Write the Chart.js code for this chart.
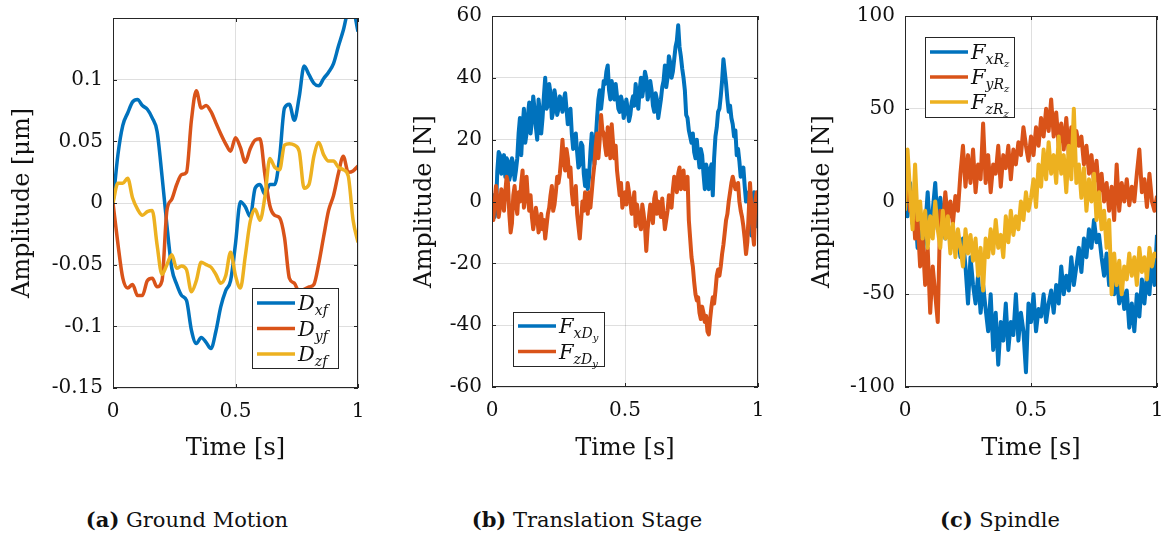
<!DOCTYPE html>
<html>
<head>
<meta charset="utf-8">
<script src="https://cdn.jsdelivr.net/npm/chart.js@4.4.1/dist/chart.umd.min.js"></script>
<style>
  body { margin: 0; width: 1161px; height: 542px; background: #fff; position: relative; overflow: hidden; }
  .plot { position: absolute; top: 0; height: 470px; }
  .cap { position: absolute; top: 507px; font-family: "DejaVu Serif", "Liberation Serif", serif; font-size: 21px; color: #111; transform: translateX(-50%); white-space: nowrap; }
</style>
</head>
<body>
<div class="plot" style="left:0;width:370px"><canvas id="groundChart"></canvas></div>
<div class="plot" style="left:400px;width:380px"><canvas id="stageChart"></canvas></div>
<div class="plot" style="left:790px;width:371px"><canvas id="spindleChart"></canvas></div>
<div class="cap" style="left:187px"><b>(a)</b> Ground Motion</div>
<div class="cap" style="left:587px"><b>(b)</b> Translation Stage</div>
<div class="cap" style="left:1000px"><b>(c)</b> Spindle</div>
<script>
// time vectors [s]
const t1 = [0, 0.02, 0.04, 0.06, 0.08, 0.1, 0.12, 0.14, 0.16, 0.18,
  0.2, 0.22, 0.24, 0.26, 0.28, 0.3, 0.32, 0.34, 0.36, 0.38,
  0.4, 0.42, 0.44, 0.46, 0.48, 0.5, 0.52, 0.54, 0.56, 0.58,
  0.6, 0.62, 0.64, 0.66, 0.68, 0.7, 0.72, 0.74, 0.76, 0.78,
  0.8, 0.82, 0.84, 0.86, 0.88, 0.9, 0.92, 0.94, 0.96, 0.98, 1];
const t2 = [0, 0.01, 0.02, 0.03, 0.04, 0.05, 0.06, 0.07, 0.08, 0.09,
  0.1, 0.11, 0.12, 0.13, 0.14, 0.15, 0.16, 0.17, 0.18, 0.19,
  0.2, 0.21, 0.22, 0.23, 0.24, 0.25, 0.26, 0.27, 0.28, 0.29,
  0.3, 0.31, 0.32, 0.33, 0.34, 0.35, 0.36, 0.37, 0.38, 0.39,
  0.4, 0.41, 0.42, 0.43, 0.44, 0.45, 0.46, 0.47, 0.48, 0.49,
  0.5, 0.51, 0.52, 0.53, 0.54, 0.55, 0.56, 0.57, 0.58, 0.59,
  0.6, 0.61, 0.62, 0.63, 0.64, 0.65, 0.66, 0.67, 0.68, 0.69,
  0.7, 0.71, 0.72, 0.73, 0.74, 0.75, 0.76, 0.77, 0.78, 0.79,
  0.8, 0.81, 0.82, 0.83, 0.84, 0.85, 0.86, 0.87, 0.88, 0.89,
  0.9, 0.91, 0.92, 0.93, 0.94, 0.95, 0.96, 0.97, 0.98, 0.99, 1];
const t3 = [0, 0.005, 0.01, 0.015, 0.02, 0.025, 0.03, 0.035, 0.04, 0.045,
  0.05, 0.055, 0.06, 0.065, 0.07, 0.075, 0.08, 0.085, 0.09, 0.095,
  0.1, 0.105, 0.11, 0.115, 0.12, 0.125, 0.13, 0.135, 0.14, 0.145,
  0.15, 0.155, 0.16, 0.165, 0.17, 0.175, 0.18, 0.185, 0.19, 0.195,
  0.2, 0.205, 0.21, 0.215, 0.22, 0.225, 0.23, 0.235, 0.24, 0.245,
  0.25, 0.255, 0.26, 0.265, 0.27, 0.275, 0.28, 0.285, 0.29, 0.295,
  0.3, 0.305, 0.31, 0.315, 0.32, 0.325, 0.33, 0.335, 0.34, 0.345,
  0.35, 0.355, 0.36, 0.365, 0.37, 0.375, 0.38, 0.385, 0.39, 0.395,
  0.4, 0.405, 0.41, 0.415, 0.42, 0.425, 0.43, 0.435, 0.44, 0.445,
  0.45, 0.455, 0.46, 0.465, 0.47, 0.475, 0.48, 0.485, 0.49, 0.495,
  0.5, 0.505, 0.51, 0.515, 0.52, 0.525, 0.53, 0.535, 0.54, 0.545,
  0.55, 0.555, 0.56, 0.565, 0.57, 0.575, 0.58, 0.585, 0.59, 0.595,
  0.6, 0.605, 0.61, 0.615, 0.62, 0.625, 0.63, 0.635, 0.64, 0.645,
  0.65, 0.655, 0.66, 0.665, 0.67, 0.675, 0.68, 0.685, 0.69, 0.695,
  0.7, 0.705, 0.71, 0.715, 0.72, 0.725, 0.73, 0.735, 0.74, 0.745,
  0.75, 0.755, 0.76, 0.765, 0.77, 0.775, 0.78, 0.785, 0.79, 0.795,
  0.8, 0.805, 0.81, 0.815, 0.82, 0.825, 0.83, 0.835, 0.84, 0.845,
  0.85, 0.855, 0.86, 0.865, 0.87, 0.875, 0.88, 0.885, 0.89, 0.895,
  0.9, 0.905, 0.91, 0.915, 0.92, 0.925, 0.93, 0.935, 0.94, 0.945,
  0.95, 0.955, 0.96, 0.965, 0.97, 0.975, 0.98, 0.985, 0.99, 0.995, 1];

// (a) ground motion [um]
const dxf = [0, 0.039, 0.063, 0.073, 0.082, 0.084, 0.079, 0.076, 0.069, 0.058,
  0.022, -0.018, -0.053, -0.066, -0.075, -0.079, -0.103, -0.114, -0.109, -0.113,
  -0.118, -0.104, -0.084, -0.071, -0.063, -0.033, 0.001, -0.003, -0.011, 0.012,
  0.015, 0.007, 0.015, 0.015, 0.037, 0.077, 0.080, 0.067, 0.086, 0.111,
  0.104, 0.097, 0.095, 0.101, 0.106, 0.113, 0.127, 0.140, 0.155, 0.156, 0.139];
const dyf = [0, -0.033, -0.061, -0.069, -0.066, -0.075, -0.075, -0.063, -0.061, -0.068,
  -0.063, -0.006, 0.003, 0.015, 0.023, 0.025, 0.067, 0.091, 0.077, 0.079,
  0.074, 0.065, 0.056, 0.048, 0.042, 0.053, 0.045, 0.033, 0.044, 0.051,
  0.052, 0.023, -0.002, -0.010, -0.012, -0.028, -0.061, -0.065, -0.072, -0.070,
  -0.068, -0.066, -0.049, -0.027, -0.006, 0.006, 0.024, 0.038, 0.025, 0.026, 0.030];
const dzf = [0, 0.016, 0.016, 0.020, 0.004, -0.005, -0.010, -0.007, -0.006, -0.034,
  -0.058, -0.050, -0.042, -0.053, -0.051, -0.054, -0.072, -0.063, -0.048, -0.050,
  -0.052, -0.058, -0.065, -0.059, -0.040, -0.059, -0.069, -0.043, -0.015, -0.005,
  -0.014, 0.005, 0.036, 0.029, 0.027, 0.047, 0.048, 0.047, 0.042, 0.012,
  0.015, 0.038, 0.049, 0.039, 0.034, 0.034, 0.029, 0.027, 0.022, -0.014, -0.032];

// (b) translation stage [N], sampled on t3
const fxDy = [-3, 2, -5, -2, 10, 16, 15, 9, 12, 15, 8, 14, 13, 7, 9, 14, 12, 7, 10, 14,
  22, 27, 15, 24, 30, 19, 22, 28, 32, 22, 26, 34, 30, 24, 20, 33, 29, 22, 27, 34,
  40, 30, 31, 38, 35, 27, 29, 36, 33, 28, 30, 34, 32, 29, 33, 35, 30, 25, 27, 30,
  22, 17, 19, 22, 16, 11, 12, 19, 18, 9, 5, 10, 4, 8, 16, 22, 17, 12, 20, 27,
  33, 36, 30, 34, 39, 38, 42, 44, 36, 33, 39, 36, 33, 38, 34, 30, 29, 34, 32, 27,
  29, 33, 30, 26, 28, 32, 34, 31, 38, 34, 30, 36, 40, 34, 37, 42, 40, 33, 35, 39,
  36, 31, 29, 35, 33, 27, 30, 33, 37, 39, 44, 37, 40, 47, 45, 40, 42, 46, 50, 52,
  57, 50, 47, 43, 40, 36, 28, 27, 23, 21, 19, 22, 16, 14, 20, 15, 11, 17, 15, 9,
  4, 12, 10, 4, 10, 12, 2, 14, 21, 24, 29, 30, 34, 39, 46, 42, 38, 33, 29, 31,
  27, 25, 21, 23, 15, 17, 13, 8, 10, 11, 5, 0, 1, 3, -8, -11, -2, 3, -5, -8, 2];
const fzDy = [-3, -6, 0, 5, 1, -5, -2, 4, 2, -3, 3, 8, 6, -4, -10, -7, 2, 5, -1, -4,
  3, 0, 6, 10, -2, 3, 8, 1, -3, 2, -5, -9, -6, -2, -5, -10, -8, -4, -9, -6,
  -12, -8, -4, -2, 2, 5, -3, -1, 3, 8, 6, 9, 14, 20, 13, 10, 17, 14, 8, 11,
  3, -1, 1, 5, -4, -8, -12, -6, 0, -3, 3, 1, -4, 3, -2, 3, 8, 12, 18, 22,
  14, 20, 28, 23, 22, 18, 15, 24, 19, 14, 25, 19, 14, 18, 10, 6, 2, 6, -2, 0,
  3, -1, 6, 3, 0, -4, -1, 3, -8, -1, -4, -7, -9, -1, -4, -8, -16, -9, -5, -1,
  -4, -7, 1, 3, -4, 0, -2, -5, 1, -4, -9, -6, -3, 2, 1, -2, 4, 8, 7, 3,
  9, 11, 4, 5, 10, 4, 7, 8, -6, -12, -18, -21, -26, -30, -32, -31, -36, -38, -34, -36,
  -39, -37, -42, -43, -38, -34, -31, -33, -29, -24, -22, -24, -21, -17, -14, -10, -6, -4, 0, 3,
  6, 8, 6, 4, 4, 6, 0, -3, -5, -8, -12, -17, -13, -4, 6, -2, -10, -14, 0, 3, -2];

// (c) spindle [N], sampled on t2
const fxRz = [0, -8, 10, -12, -5, -25, -8, -30, -15, 5,
  -18, -5, 10, -15, 2, -10, -20, -12, -22, -15,
  -25, -18, -30, -20, -35, -55, -30, -45, -55, -40,
  -60, -45, -58, -70, -50, -80, -60, -88, -65, -75,
  -55, -80, -65, -72, -50, -75, -60, -70, -92, -55,
  -65, -50, -70, -58, -62, -50, -65, -55, -48, -60,
  -45, -55, -35, -50, -40, -48, -30, -45, -35, -25,
  -38, -20, -30, -15, -25, -10, -22, -18, -30, -40,
  -28, -45, -35, -50, -40, -55, -45, -58, -48, -68,
  -55, -70, -50, -62, -42, -55, -40, -50, -30, -45, -18];
const fyRz = [0, 15, -5, 5, -20, -10, -35, -20, -45, -25,
  -60, -35, -50, -65, -5, -15, 5, -10, 0, -12,
  3, -5, 15, 30, 8, 25, 10, 28, 5, 20,
  12, 42, 10, 25, 5, 20, 15, 30, 8, 25,
  18, 30, 12, 28, 20, 32, 25, 40, 30, 22,
  35, 25, 40, 30, 45, 35, 50, 38, 55, 35,
  48, 30, 42, 28, 45, 25, 40, 22, 38, 30,
  35, 20, 30, 15, 25, 10, 22, 5, 15, 0,
  10, -5, 8, -10, 20, -5, 10, 0, 12, -2,
  8, 0, 15, 28, 5, 12, -3, 15, 0, -5, 3];
const fzRz = [-5, 28, 5, -15, 20, -10, 0, -20, -5, -25,
  -8, -20, 0, -15, -25, -5, -20, -8, -28, -12,
  -30, -15, -25, -35, -15, -28, -18, -32, -20, -40,
  -25, -48, -20, -30, -15, -28, -10, -25, -18, -30,
  -8, -22, -5, -18, -8, -15, 0, -10, 5, -5,
  2, 12, -3, 20, 8, 28, 12, 32, 15, 25,
  10, 35, 15, 25, 5, 30, 12, 50, 10, 20,
  2, 18, -5, 12, 0, 15, -10, 5, -15, -5,
  -25, -10, -50, -28, -45, -32, -50, -35, -42, -28,
  -40, -30, -45, -25, -38, -30, -42, -25, -35, -28, -30];

// tick values
const xTicks = [0, 0.5, 1];
const yTicksA = [-0.15, -0.1, -0.05, 0, 0.05, 0.1];
const yTicksB = [-60, -40, -20, 0, 20, 40, 60];
const yTicksC = [-100, -50, 0, 50, 100];

const BLUE = '#0072BD', ORANGE = '#D95319', YELLOW = '#EDB120';
const AXIS = '#262626';
const SERIF = '"DejaVu Serif", "Liberation Serif", serif';

Chart.defaults.font.family = SERIF;
Chart.defaults.color = '#111';

function pts(t, v) {
    return t.map((x, i) => ({ x: x, y: v[i] }));
}

// box around the axes and small inward ticks on all four sides
const axesFrame = {
    id: 'axesFrame',
    afterDraw(chart) {
        const { ctx, chartArea: a, scales } = chart;
        ctx.save();
        ctx.strokeStyle = AXIS;
        ctx.lineWidth = 1;
        ctx.beginPath();
        scales.x.ticks.forEach(tk => {
            const px = Math.round(scales.x.getPixelForValue(tk.value)) + 0.5;
            ctx.moveTo(px, a.bottom); ctx.lineTo(px, a.bottom - 4);
            ctx.moveTo(px, a.top); ctx.lineTo(px, a.top + 4);
        });
        scales.y.ticks.forEach(tk => {
            const py = Math.round(scales.y.getPixelForValue(tk.value)) + 0.5;
            ctx.moveTo(a.left, py); ctx.lineTo(a.left + 4, py);
            ctx.moveTo(a.right, py); ctx.lineTo(a.right - 4, py);
        });
        ctx.stroke();
        ctx.strokeRect(a.left + 0.5, a.top + 0.5, a.right - a.left - 1, a.bottom - a.top - 1);
        ctx.restore();
    }
};

// MATLAB style legend box drawn inside the axes
const insideLegend = {
    id: 'insideLegend',
    afterDatasetsDraw(chart, args, opts) {
        const ctx = chart.ctx;
        ctx.save();
        ctx.fillStyle = '#fff';
        ctx.fillRect(opts.x, opts.y, opts.w, opts.h);
        ctx.strokeStyle = AXIS;
        ctx.lineWidth = 1;
        ctx.strokeRect(opts.x + 0.5, opts.y + 0.5, opts.w, opts.h);
        const sizes = [21, 14, 10];
        const drops = [0, 5, 8];
        chart.data.datasets.forEach((ds, i) => {
            const cy = opts.y + opts.first + i * opts.row;
            ctx.strokeStyle = ds.borderColor;
            ctx.lineWidth = 3.5;
            ctx.beginPath();
            ctx.moveTo(opts.x + 5, cy);
            ctx.lineTo(opts.x + 43, cy);
            ctx.stroke();
            let tx = opts.x + 46;
            ctx.fillStyle = '#111';
            ctx.textBaseline = 'alphabetic';
            ds.legendParts.forEach(([txt, lvl]) => {
                ctx.font = 'italic ' + sizes[lvl] + 'px ' + SERIF;
                ctx.fillText(txt, tx, cy + 7 + drops[lvl]);
                tx += ctx.measureText(txt).width;
            });
        });
        ctx.restore();
    }
};

function makeOptions(c) {
    return {
        responsive: true,
        maintainAspectRatio: false,
        animation: false,
        layout: { padding: { top: c.top, right: c.right, left: 0, bottom: 0 } },
        elements: { point: { radius: 0 } },
        plugins: {
            legend: { display: false },
            tooltip: { enabled: false },
            insideLegend: c.legend
        },
        scales: {
            x: {
                type: 'linear',
                min: 0,
                max: 1,
                afterBuildTicks: s => { s.ticks = xTicks.map(v => ({ value: v })); },
                afterFit: s => { s.height = c.xh; s.paddingLeft = 0; s.paddingRight = 0; },
                ticks: { font: { size: 20 }, padding: 12, maxRotation: 0, callback: v => String(v) },
                grid: { color: 'rgba(38,38,38,0.15)', drawTicks: false },
                border: { display: false },
                title: { display: true, text: 'Time [s]', font: { size: 24 }, padding: { bottom: 7 } }
            },
            y: {
                min: c.ymin,
                max: c.ymax,
                afterBuildTicks: s => { s.ticks = c.yTicks.map(v => ({ value: v })); },
                afterFit: s => { s.width = c.yw; s.paddingTop = 0; s.paddingBottom = 0; },
                ticks: { font: { size: 20 }, padding: 10, callback: v => String(v) },
                grid: { color: 'rgba(38,38,38,0.15)', drawTicks: false },
                border: { display: false },
                title: { display: true, text: c.ytitle, font: { size: 24 }, padding: { top: c.ytpad } }
            }
        }
    };
}

function line(t, v, color, order, parts, smooth) {
    return {
        data: pts(t, v),
        borderColor: color,
        borderWidth: smooth ? 3.5 : 4,
        borderJoinStyle: 'round',
        fill: false,
        clip: 0,
        order: order,
        tension: smooth ? 0.4 : 0,
        cubicInterpolationMode: smooth ? 'monotone' : 'default',
        legendParts: parts
    };
}

// (a) Ground Motion
new Chart(document.getElementById('groundChart'), {
    type: 'line',
    data: {
        datasets: [
            line(t1, dxf, BLUE, 2, [['D', 0], ['xf', 1]], true),
            line(t1, dyf, ORANGE, 1, [['D', 0], ['yf', 1]], true),
            line(t1, dzf, YELLOW, 0, [['D', 0], ['zf', 1]], true)
        ]
    },
    options: makeOptions({
        top: 18, right: 12, xh: 82, yw: 113, ytpad: 8,
        ymin: -0.15, ymax: 0.15, yTicks: yTicksA, ytitle: 'Amplitude [μm]',
        legend: { x: 252, y: 288, w: 86, h: 80, first: 15, row: 25.5 }
    }),
    plugins: [insideLegend, axesFrame]
});

// (b) Translation Stage
new Chart(document.getElementById('stageChart'), {
    type: 'line',
    data: {
        datasets: [
            line(t3, fxDy, BLUE, 1, [['F', 0], ['xD', 1], ['y', 2]], false),
            line(t3, fzDy, ORANGE, 0, [['F', 0], ['zD', 1], ['y', 2]], false)
        ]
    },
    options: makeOptions({
        top: 16, right: 22, xh: 83, yw: 92, ytpad: 10,
        ymin: -60, ymax: 60, yTicks: yTicksB, ytitle: 'Amplitude [N]',
        legend: { x: 113, y: 312, w: 91, h: 54, first: 14, row: 25.5 }
    }),
    plugins: [insideLegend, axesFrame]
});

// (c) Spindle
new Chart(document.getElementById('spindleChart'), {
    type: 'line',
    data: {
        datasets: [
            line(t2, fxRz, BLUE, 2, [['F', 0], ['xR', 1], ['z', 2]], false),
            line(t2, fyRz, ORANGE, 1, [['F', 0], ['yR', 1], ['z', 2]], false),
            line(t2, fzRz, YELLOW, 0, [['F', 0], ['zR', 1], ['z', 2]], false)
        ]
    },
    options: makeOptions({
        top: 16, right: 4, xh: 83, yw: 115, ytpad: 18,
        ymin: -100, ymax: 100, yTicks: yTicksC, ytitle: 'Amplitude [N]',
        legend: { x: 135, y: 37, w: 89, h: 80, first: 15, row: 25 }
    }),
    plugins: [insideLegend, axesFrame]
});
</script>
</body>
</html>
